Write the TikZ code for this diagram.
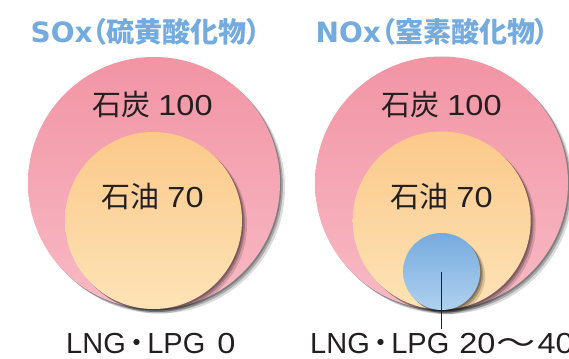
\documentclass[tikz,border=0pt]{standalone}
\usepackage{fontspec}
\usepackage{graphicx}
\setmainfont{Liberation Sans}
\newfontfamily\cjk{Noto Sans CJK JP}
\newfontfamily\cjkp[RawFeature=+palt]{Noto Sans CJK JP}
\newfontfamily\digs[FakeStretch=1.12]{Liberation Sans}
\newfontfamily\wideb{DejaVu Sans}
\usetikzlibrary{shadows}
\definecolor{pinkT}{HTML}{F294A4}
\definecolor{pinkB}{HTML}{F8BAC5}
\definecolor{yelT}{HTML}{FBC98A}
\definecolor{yelB}{HTML}{FDE3B6}
\definecolor{bluT}{HTML}{76ABDE}
\definecolor{bluB}{HTML}{AFD1EF}
\definecolor{titleblue}{HTML}{74ABDF}
\definecolor{ink}{HTML}{231F20}
\newcommand{\mydot}{{\cjk\kern-.13em ・\kern-.13em}}
\newcommand{\mytilde}{{\cjk\kern.05em\scalebox{1.35}[1]{～}\kern.05em}}
\tikzset{
  softshadow/.style={
    drop shadow={shadow xshift=1.5pt,shadow yshift=-1.5pt,opacity=.25,fill=black},
    drop shadow={shadow xshift=3pt,shadow yshift=-3pt,opacity=.22,fill=black},
    drop shadow={shadow xshift=5pt,shadow yshift=-4.5pt,opacity=.14,fill=black}},
  disc/.style={circle,inner sep=0pt,minimum size=#1},
  lbl/.style={text=ink,inner sep=0pt,anchor=base,font=\fontsize{29}{32}\selectfont},
  bottomlbl/.style={text=ink,inner sep=0pt,anchor=base west,text depth=0pt,font=\fontsize{29}{32}\selectfont},
  titlelbl/.style={text=titleblue,inner sep=0pt,anchor=base west,font=\fontsize{28}{30}\selectfont},
}
\begin{document}
\begin{tikzpicture}[x=1pt,y=-1pt]
\fill[white] (0,0) rectangle (569,358);
\useasboundingbox (0,0) rectangle (569,358);
% titles
\node[titlelbl] (titleA) at (30.5,42.5) {{\wideb\bfseries SOx}{\cjkp\bfseries （硫黄酸化物）}};
\node[titlelbl] (titleB) at (315.5,42.5) {{\wideb\bfseries NOx}{\cjkp\bfseries （窒素酸化物）}};
% left group
\node[disc=252pt,softshadow,top color=pinkT,bottom color=pinkB] (coalA) at (154,183) {};
\node[disc=177pt,softshadow,top color=yelT,bottom color=yelB] (oilA) at (153.5,220.5) {};
% right group
\node[disc=253pt,softshadow,top color=pinkT,bottom color=pinkB] (coalB) at (441.5,183) {};
\node[disc=178pt,softshadow,top color=yelT,bottom color=yelB] (oilB) at (441.7,220.5) {};
\node[disc=77pt,softshadow,top color=bluT,bottom color=bluB] (lngB) at (441.6,271.5) {};
% labels
\node[lbl] (coalAtxt) at (152.5,116) {{\cjk 石炭} {\digs 100}};
\node[lbl] (oilAtxt) at (152.5,207) {{\cjk 石油} {\digs 70}};
\node[lbl] (coalBtxt) at (441.5,116) {{\cjk 石炭} {\digs 100}};
\node[lbl] (oilBtxt) at (441.5,207) {{\cjk 石油} {\digs 70}};
% connector
\coordinate (lineEnd) at (441.6,329);
\draw[ink,line width=0.8pt] (lngB.center) -- (lineEnd);
% bottom labels
\node[bottomlbl] (lngA) at (66,353.5) {LNG\mydot LPG\kern4pt\ {\digs 0}};
\node[bottomlbl] (lngBtxt) at (310,353.5) {LNG\mydot LPG\kern2pt\ {\digs 20}\mytilde{\digs 40}};
\end{tikzpicture}
\end{document}
